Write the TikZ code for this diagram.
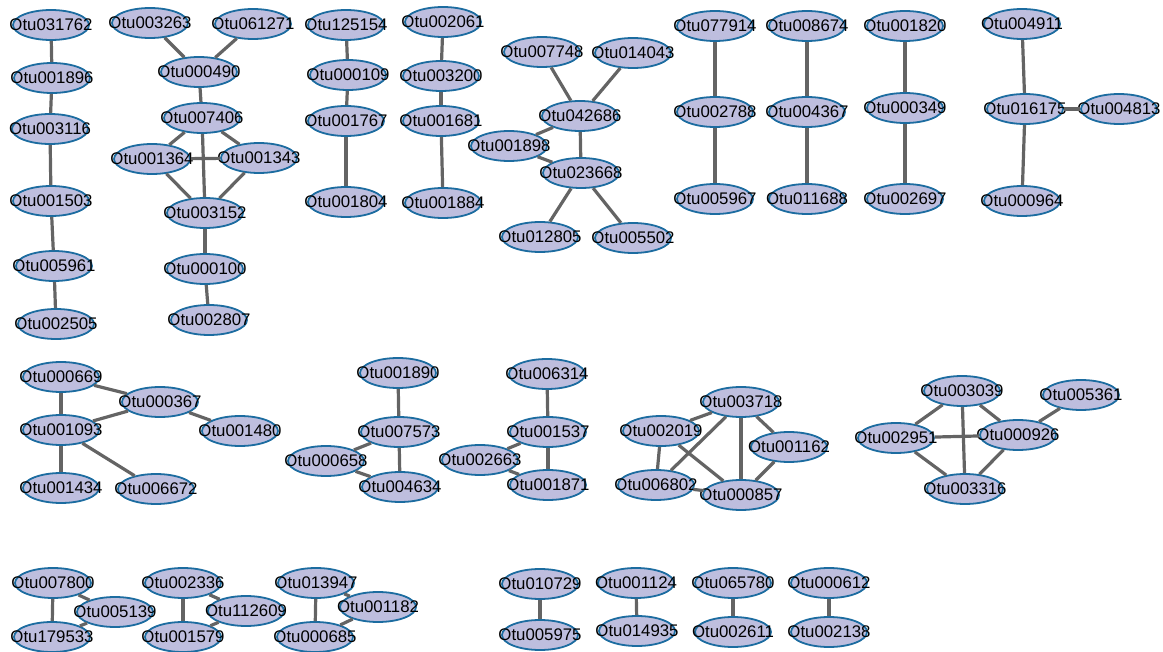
\documentclass[tikz,border=0pt]{standalone}
\usepackage{fontspec}
\setmainfont{Liberation Sans}
\definecolor{otufill}{RGB}{190, 190, 222}
\definecolor{otuline}{RGB}{28, 108, 160}
\definecolor{edgegray}{RGB}{100, 100, 100}
\usetikzlibrary{shapes.geometric}

\begin{document}
\begin{tikzpicture}[x=1pt, y=-1pt, font=\fontsize{16.8}{20}\selectfont,
    otu/.style={ellipse, draw=otuline, fill=otufill, line width=1.8pt, minimum width=76pt, minimum height=30pt, inner sep=0pt},
    link/.style={draw=edgegray, line width=3.2pt},
]
\useasboundingbox (0,0) rectangle (1163,652);
% top row
\node[otu] (o031762) at (51, 25) {\makebox[0pt]{Otu031762}};
\node[otu] (o001896) at (52, 78) {\makebox[0pt]{Otu001896}};
\node[otu] (o003116) at (50, 129) {\makebox[0pt]{Otu003116}};
\node[otu] (o001503) at (51, 201) {\makebox[0pt]{Otu001503}};
\node[otu] (o005961) at (54, 266) {\makebox[0pt]{Otu005961}};
\node[otu] (o002505) at (56, 324) {\makebox[0pt]{Otu002505}};

\node[otu] (o003263) at (150, 23) {\makebox[0pt]{Otu003263}};
\node[otu] (o061271) at (253, 24) {\makebox[0pt]{Otu061271}};
\node[otu] (o000490) at (199, 72) {\makebox[0pt]{Otu000490}};
\node[otu] (o007406) at (202, 118) {\makebox[0pt]{Otu007406}};
\node[otu] (o001364) at (152, 159) {\makebox[0pt]{Otu001364}};
\node[otu] (o001343) at (259, 158) {\makebox[0pt]{Otu001343}};
\node[otu] (o003152) at (205, 213) {\makebox[0pt]{Otu003152}};
\node[otu] (o000100) at (205, 269) {\makebox[0pt]{Otu000100}};
\node[otu] (o002807) at (209, 320) {\makebox[0pt]{Otu002807}};

\node[otu] (o125154) at (346, 25) {\makebox[0pt]{Otu125154}};
\node[otu] (o000109) at (348, 75) {\makebox[0pt]{Otu000109}};
\node[otu] (o001767) at (346, 121) {\makebox[0pt]{Otu001767}};
\node[otu] (o001804) at (346, 202) {\makebox[0pt]{Otu001804}};

\node[otu] (o002061) at (443, 22) {\makebox[0pt]{Otu002061}};
\node[otu] (o003200) at (441, 76) {\makebox[0pt]{Otu003200}};
\node[otu] (o001681) at (441, 121) {\makebox[0pt]{Otu001681}};
\node[otu] (o001884) at (443, 203) {\makebox[0pt]{Otu001884}};

\node[otu] (o007748) at (542, 52) {\makebox[0pt]{Otu007748}};
\node[otu] (o014043) at (633, 53) {\makebox[0pt]{Otu014043}};
\node[otu] (o042686) at (580, 116) {\makebox[0pt]{Otu042686}};
\node[otu] (o001898) at (509, 146) {\makebox[0pt]{Otu001898}};
\node[otu] (o023668) at (581, 173) {\makebox[0pt]{Otu023668}};
\node[otu] (o012805) at (540, 237) {\makebox[0pt]{Otu012805}};
\node[otu] (o005502) at (633, 238) {\makebox[0pt]{Otu005502}};

\node[otu] (o077914) at (715, 26) {\makebox[0pt]{Otu077914}};
\node[otu] (o002788) at (715, 112) {\makebox[0pt]{Otu002788}};
\node[otu] (o005967) at (715, 199) {\makebox[0pt]{Otu005967}};
\node[otu] (o008674) at (807, 26) {\makebox[0pt]{Otu008674}};
\node[otu] (o004367) at (807, 112) {\makebox[0pt]{Otu004367}};
\node[otu] (o011688) at (807, 199) {\makebox[0pt]{Otu011688}};
\node[otu] (o001820) at (905, 26) {\makebox[0pt]{Otu001820}};
\node[otu] (o000349) at (905, 108) {\makebox[0pt]{Otu000349}};
\node[otu] (o002697) at (905, 199) {\makebox[0pt]{Otu002697}};

\node[otu] (o004911) at (1022, 24) {\makebox[0pt]{Otu004911}};
\node[otu] (o016175) at (1025, 109) {\makebox[0pt]{Otu016175}};
\node[otu] (o004813) at (1119, 109) {\makebox[0pt]{Otu004813}};
\node[otu] (o000964) at (1022, 201) {\makebox[0pt]{Otu000964}};
% middle row
\node[otu] (o000669) at (61, 377) {\makebox[0pt]{Otu000669}};
\node[otu] (o000367) at (160, 402) {\makebox[0pt]{Otu000367}};
\node[otu] (o001093) at (61, 430) {\makebox[0pt]{Otu001093}};
\node[otu] (o001480) at (240, 431) {\makebox[0pt]{Otu001480}};
\node[otu] (o001434) at (61, 488) {\makebox[0pt]{Otu001434}};
\node[otu] (o006672) at (156, 489) {\makebox[0pt]{Otu006672}};

\node[otu] (o001890) at (398, 373) {\makebox[0pt]{Otu001890}};
\node[otu] (o007573) at (399, 432) {\makebox[0pt]{Otu007573}};
\node[otu] (o000658) at (326, 461) {\makebox[0pt]{Otu000658}};
\node[otu] (o004634) at (400, 487) {\makebox[0pt]{Otu004634}};

\node[otu] (o006314) at (547, 374) {\makebox[0pt]{Otu006314}};
\node[otu] (o001537) at (548, 432) {\makebox[0pt]{Otu001537}};
\node[otu] (o002663) at (480, 460) {\makebox[0pt]{Otu002663}};
\node[otu] (o001871) at (548, 485) {\makebox[0pt]{Otu001871}};

\node[otu] (o003718) at (741, 402) {\makebox[0pt]{Otu003718}};
\node[otu] (o002019) at (661, 431) {\makebox[0pt]{Otu002019}};
\node[otu] (o001162) at (789, 447) {\makebox[0pt]{Otu001162}};
\node[otu] (o006802) at (656, 485) {\makebox[0pt]{Otu006802}};
\node[otu] (o000857) at (741, 495) {\makebox[0pt]{Otu000857}};

\node[otu] (o003039) at (962, 391) {\makebox[0pt]{Otu003039}};
\node[otu] (o005361) at (1081, 395) {\makebox[0pt]{Otu005361}};
\node[otu] (o002951) at (896, 438) {\makebox[0pt]{Otu002951}};
\node[otu] (o000926) at (1018, 435) {\makebox[0pt]{Otu000926}};
\node[otu] (o003316) at (965, 489) {\makebox[0pt]{Otu003316}};
% bottom row
\node[otu] (o007800) at (53, 583) {\makebox[0pt]{Otu007800}};
\node[otu] (o005139) at (115, 612) {\makebox[0pt]{Otu005139}};
\node[otu] (o179533) at (52, 637) {\makebox[0pt]{Otu179533}};
\node[otu] (o002336) at (183, 583) {\makebox[0pt]{Otu002336}};
\node[otu] (o112609) at (246, 611) {\makebox[0pt]{Otu112609}};
\node[otu] (o001579) at (183, 637) {\makebox[0pt]{Otu001579}};
\node[otu] (o013947) at (316, 583) {\makebox[0pt]{Otu013947}};
\node[otu] (o001182) at (378, 607) {\makebox[0pt]{Otu001182}};
\node[otu] (o000685) at (315, 637) {\makebox[0pt]{Otu000685}};

\node[otu] (o010729) at (540, 584) {\makebox[0pt]{Otu010729}};
\node[otu] (o005975) at (540, 635) {\makebox[0pt]{Otu005975}};
\node[otu] (o001124) at (636, 583) {\makebox[0pt]{Otu001124}};
\node[otu] (o014935) at (637, 631) {\makebox[0pt]{Otu014935}};
\node[otu] (o065780) at (733, 583) {\makebox[0pt]{Otu065780}};
\node[otu] (o002611) at (733, 632) {\makebox[0pt]{Otu002611}};
\node[otu] (o000612) at (829, 583) {\makebox[0pt]{Otu000612}};
\node[otu] (o002138) at (829, 632) {\makebox[0pt]{Otu002138}};

\draw[link] (o031762)--(o001896);
\draw[link] (o001896)--(o003116);
\draw[link] (o003116)--(o001503);
\draw[link] (o001503)--(o005961);
\draw[link] (o005961)--(o002505);

\draw[link] (o003263)--(o000490);
\draw[link] (o061271)--(o000490);
\draw[link] (o000490)--(o007406);
\draw[link] (o007406)--(o001364);
\draw[link] (o007406)--(o001343);
\draw[link] (o007406)--(o003152);
\draw[link] (o001364)--(o001343);
\draw[link] (o001364)--(o003152);
\draw[link] (o001343)--(o003152);
\draw[link] (o003152)--(o000100);
\draw[link] (o000100)--(o002807);

\draw[link] (o125154)--(o000109);
\draw[link] (o000109)--(o001767);
\draw[link] (o001767)--(o001804);
\draw[link] (o002061)--(o003200);
\draw[link] (o003200)--(o001681);
\draw[link] (o001681)--(o001884);

\draw[link] (o007748)--(o042686);
\draw[link] (o014043)--(o042686);
\draw[link] (o042686)--(o001898);
\draw[link] (o042686)--(o023668);
\draw[link] (o001898)--(o023668);
\draw[link] (o023668)--(o012805);
\draw[link] (o023668)--(o005502);

\draw[link] (o077914)--(o002788);
\draw[link] (o002788)--(o005967);
\draw[link] (o008674)--(o004367);
\draw[link] (o004367)--(o011688);
\draw[link] (o001820)--(o000349);
\draw[link] (o000349)--(o002697);
\draw[link] (o004911)--(o016175);
\draw[link] (o016175)--(o004813);
\draw[link] (o016175)--(o000964);

\draw[link] (o000669)--(o000367);
\draw[link] (o000669)--(o001093);
\draw[link] (o000367)--(o001093);
\draw[link] (o000367)--(o001480);
\draw[link] (o001093)--(o001434);
\draw[link] (o001093)--(o006672);

\draw[link] (o001890)--(o007573);
\draw[link] (o007573)--(o000658);
\draw[link] (o007573)--(o004634);
\draw[link] (o000658)--(o004634);
\draw[link] (o006314)--(o001537);
\draw[link] (o001537)--(o002663);
\draw[link] (o001537)--(o001871);
\draw[link] (o002663)--(o001871);

\draw[link] (o003718)--(o002019);
\draw[link] (o003718)--(o006802);
\draw[link] (o003718)--(o001162);
\draw[link] (o003718)--(o000857);
\draw[link] (o002019)--(o006802);
\draw[link] (o002019)--(o000857);
\draw[link] (o006802)--(o000857);
\draw[link] (o001162)--(o000857);

\draw[link] (o003039)--(o002951);
\draw[link] (o003039)--(o000926);
\draw[link] (o003039)--(o003316);
\draw[link] (o002951)--(o000926);
\draw[link] (o002951)--(o003316);
\draw[link] (o000926)--(o003316);
\draw[link] (o000926)--(o005361);

\draw[link] (o007800)--(o179533);
\draw[link] (o007800)--(o005139);
\draw[link] (o005139)--(o179533);
\draw[link] (o002336)--(o001579);
\draw[link] (o002336)--(o112609);
\draw[link] (o112609)--(o001579);
\draw[link] (o013947)--(o000685);
\draw[link] (o013947)--(o001182);
\draw[link] (o001182)--(o000685);
\draw[link] (o010729)--(o005975);
\draw[link] (o001124)--(o014935);
\draw[link] (o065780)--(o002611);
\draw[link] (o000612)--(o002138);
\end{tikzpicture}
\end{document}
